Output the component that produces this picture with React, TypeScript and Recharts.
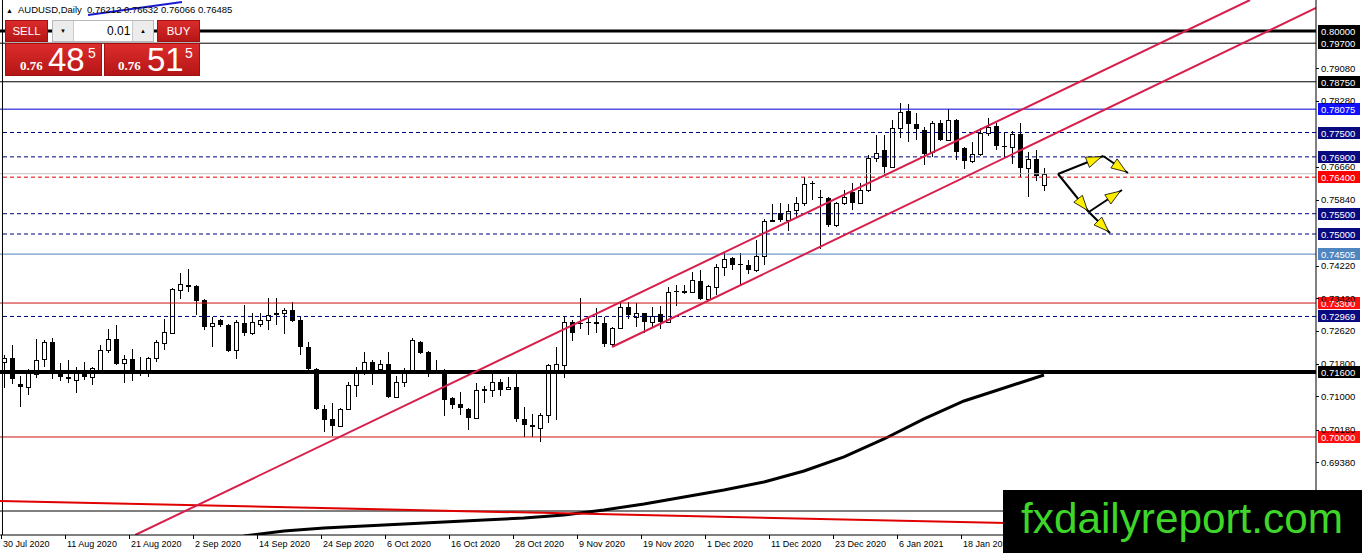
import React from "react";
import { Bar, ComposedChart, Line, ReferenceLine, XAxis, YAxis } from "recharts";

const header = "AUDUSD,Daily  0.76212 0.76632 0.76066 0.76485";
const lotSize = "0.01";
const sellQuote = ["0.76", "48", "5"];
const buyQuote = ["0.76", "51", "5"];
const watermark = "fxdailyreport.com";

// one label every 8 bars
const dateTickIndex = [0, 8, 16, 24, 32, 40, 48, 56, 64, 72, 80, 88, 96, 104, 112, 120];
const dateTickLabels = [
  "30 Jul 2020", "11 Aug 2020", "21 Aug 2020", "2 Sep 2020", "14 Sep 2020", "24 Sep 2020",
  "6 Oct 2020", "16 Oct 2020", "28 Oct 2020", "9 Nov 2020", "19 Nov 2020", "1 Dec 2020",
  "11 Dec 2020", "23 Dec 2020", "6 Jan 2021", "18 Jan 2021",
];

const priceTicks = [0.6938, 0.7018, 0.71, 0.718, 0.7262, 0.7342, 0.7422, 0.7584, 0.7666, 0.7828, 0.7908];

// daily bars, 30 Jul 2020 .. 1 Feb 2021 : open, high, low, close
const ohlc: [number, number, number, number][] = [
  [0.7185, 0.7202, 0.7121, 0.7195], [0.7195, 0.7227, 0.7131, 0.7143], [0.7131, 0.715, 0.7074, 0.7123],
  [0.7123, 0.7168, 0.7104, 0.7158], [0.7155, 0.7241, 0.7145, 0.719], [0.7192, 0.7239, 0.7173, 0.7234],
  [0.7234, 0.7244, 0.7143, 0.7165], [0.7158, 0.7182, 0.7138, 0.7148], [0.7148, 0.719, 0.7133, 0.7143],
  [0.7141, 0.7173, 0.7108, 0.7158], [0.7158, 0.7185, 0.7141, 0.7148], [0.7148, 0.7173, 0.7128, 0.717],
  [0.7165, 0.7227, 0.716, 0.7214], [0.7214, 0.7266, 0.7207, 0.7241], [0.7241, 0.7276, 0.7177, 0.718],
  [0.7182, 0.7202, 0.7133, 0.7192], [0.7192, 0.7217, 0.7138, 0.7163], [0.716, 0.7197, 0.715, 0.7158],
  [0.7165, 0.7197, 0.7148, 0.7195], [0.7195, 0.7239, 0.7185, 0.7234], [0.7232, 0.7291, 0.7214, 0.7259],
  [0.7256, 0.7367, 0.7256, 0.7365], [0.7362, 0.7404, 0.734, 0.7377], [0.7374, 0.7414, 0.7357, 0.737],
  [0.7372, 0.7374, 0.7301, 0.7335], [0.7338, 0.734, 0.7264, 0.7271], [0.7273, 0.7296, 0.7222, 0.7281],
  [0.7288, 0.7291, 0.7271, 0.7276], [0.7276, 0.7278, 0.7209, 0.7212], [0.7214, 0.7288, 0.7192, 0.7283],
  [0.7281, 0.7325, 0.7249, 0.7256], [0.7256, 0.7305, 0.7251, 0.7283], [0.7278, 0.7305, 0.7271, 0.7288],
  [0.7288, 0.7342, 0.7264, 0.7301], [0.7305, 0.7342, 0.7276, 0.7301], [0.7305, 0.7318, 0.7254, 0.7313],
  [0.7313, 0.7333, 0.7283, 0.7286], [0.7288, 0.7296, 0.7202, 0.7222], [0.7222, 0.7234, 0.7158, 0.7168],
  [0.7168, 0.717, 0.7067, 0.7069], [0.7069, 0.7079, 0.7012, 0.7042], [0.7044, 0.7084, 0.7003, 0.7027],
  [0.7027, 0.7071, 0.7025, 0.7069], [0.7069, 0.7136, 0.7067, 0.7128], [0.7128, 0.7173, 0.7099, 0.7158],
  [0.7165, 0.7209, 0.7153, 0.7185], [0.7185, 0.719, 0.7128, 0.7165], [0.7168, 0.719, 0.7165, 0.718],
  [0.718, 0.7209, 0.7096, 0.7099], [0.7099, 0.715, 0.7096, 0.7136], [0.7136, 0.717, 0.7123, 0.716],
  [0.7165, 0.7244, 0.7165, 0.7239], [0.7234, 0.7237, 0.7205, 0.7207], [0.7209, 0.7212, 0.7148, 0.7165],
  [0.7165, 0.719, 0.7158, 0.7163], [0.716, 0.7168, 0.7052, 0.7091], [0.7096, 0.7099, 0.7069, 0.7079],
  [0.7081, 0.7111, 0.7054, 0.7071], [0.7069, 0.7071, 0.7017, 0.7047], [0.7047, 0.7133, 0.7044, 0.7116],
  [0.7116, 0.7126, 0.7084, 0.7117], [0.7116, 0.7158, 0.7099, 0.7136], [0.7136, 0.7143, 0.7101, 0.7116],
  [0.7118, 0.7148, 0.7116, 0.7123], [0.7123, 0.7155, 0.7037, 0.7044], [0.7044, 0.7074, 0.7, 0.703],
  [0.703, 0.7057, 0.7, 0.7025], [0.7022, 0.7059, 0.6988, 0.7054], [0.7054, 0.718, 0.7035, 0.7177],
  [0.716, 0.7222, 0.7042, 0.718], [0.7177, 0.7296, 0.7145, 0.7283], [0.7283, 0.7288, 0.7237, 0.7256],
  [0.7281, 0.7342, 0.7266, 0.728], [0.7283, 0.7296, 0.7251, 0.7281], [0.7281, 0.7318, 0.7256, 0.7283],
  [0.7281, 0.7296, 0.7222, 0.7229], [0.7229, 0.7271, 0.7222, 0.7268], [0.7268, 0.733, 0.7266, 0.732],
  [0.732, 0.7333, 0.7291, 0.7301], [0.7296, 0.733, 0.7271, 0.7305], [0.7305, 0.7306, 0.7256, 0.7283],
  [0.7283, 0.732, 0.7271, 0.7298], [0.7303, 0.7323, 0.7266, 0.7283], [0.7283, 0.737, 0.7281, 0.7357],
  [0.736, 0.7374, 0.7323, 0.7359], [0.7357, 0.7374, 0.7352, 0.736], [0.7357, 0.7406, 0.7355, 0.7387],
  [0.7384, 0.7411, 0.7338, 0.734], [0.734, 0.7374, 0.7338, 0.7372], [0.737, 0.7426, 0.735, 0.7419],
  [0.7419, 0.7453, 0.7397, 0.7438], [0.7441, 0.7443, 0.7411, 0.7423], [0.7426, 0.7453, 0.7374, 0.7425],
  [0.7423, 0.7436, 0.7401, 0.7411], [0.7411, 0.7485, 0.7406, 0.7446], [0.7446, 0.7537, 0.7423, 0.7532],
  [0.7532, 0.7574, 0.7532, 0.7535], [0.7552, 0.7576, 0.753, 0.7535], [0.7535, 0.7574, 0.7507, 0.7557],
  [0.7559, 0.7591, 0.7542, 0.7576], [0.7576, 0.764, 0.7569, 0.7623], [0.7626, 0.7631, 0.7584, 0.7625],
  [0.7591, 0.7608, 0.7463, 0.7589], [0.7589, 0.7591, 0.7517, 0.7522], [0.7522, 0.7579, 0.7517, 0.7576],
  [0.7576, 0.7608, 0.7571, 0.7591], [0.7604, 0.7626, 0.7559, 0.7576], [0.7576, 0.7626, 0.7574, 0.7608],
  [0.7608, 0.7695, 0.7604, 0.7687], [0.7687, 0.7744, 0.7677, 0.77], [0.7707, 0.7744, 0.7645, 0.7665],
  [0.7665, 0.7781, 0.7663, 0.7761], [0.7761, 0.7823, 0.7736, 0.7801], [0.7803, 0.782, 0.7727, 0.7771],
  [0.7771, 0.7798, 0.7732, 0.7759], [0.7756, 0.7764, 0.767, 0.7697], [0.7702, 0.7778, 0.769, 0.7773],
  [0.7773, 0.7781, 0.7729, 0.7732], [0.7732, 0.7808, 0.7729, 0.7781], [0.7781, 0.7783, 0.7682, 0.7702],
  [0.7712, 0.7714, 0.766, 0.768], [0.768, 0.7727, 0.7675, 0.7697], [0.7697, 0.7761, 0.7692, 0.7749],
  [0.7749, 0.7786, 0.7741, 0.7764], [0.7766, 0.7773, 0.7707, 0.7717], [0.7717, 0.7749, 0.7687, 0.7714],
  [0.7714, 0.7754, 0.7672, 0.7746], [0.7746, 0.7773, 0.764, 0.7663], [0.7663, 0.7702, 0.7591, 0.7685],
  [0.7685, 0.7707, 0.7631, 0.7643], [0.76212, 0.76632, 0.76066, 0.76485],
];

// 200 day moving average, read every 5 bars: [bar, value]
const ma200: [number, number][] = [
  [30, 0.67562], [35, 0.67685], [40, 0.67759], [45, 0.67808], [50, 0.67858], [55, 0.67907],
  [60, 0.67956], [65, 0.68006], [70, 0.6808], [75, 0.68203], [80, 0.68351], [85, 0.68523],
  [90, 0.68696], [95, 0.68893], [100, 0.69163], [105, 0.69508], [110, 0.69951], [115, 0.70444],
  [120, 0.70887], [125, 0.71207], [130, 0.71527],
];

// horizontal levels: price, kind
const levels: [number, string][] = [
  [0.8, "heavy"], [0.797, "black"], [0.7875, "black"], [0.78075, "blue"], [0.775, "navyDash"],
  [0.769, "navyDash"], [0.76485, "bid"], [0.764, "redDash"], [0.755, "navyDash"], [0.75, "navyDash"],
  [0.74505, "steel"], [0.733, "red"], [0.72969, "navyDash"], [0.716, "heavier"], [0.7, "red"],
  [0.68177, "plain"],
];

// trend objects as [bar, price] end points
const channelUpper: [number, number][] = [[16.4, 0.67586], [155.75, 0.80764]];
const channelLower: [number, number][] = [[76, 0.72217], [164, 0.80567]];
const redTrend: [number, number][] = [[-0.5, 0.68424], [164, 0.67714]];
const blueTrend: [number, number][] = [[10.5, 0.80394], [22.25, 0.80714]];
const chartEdge = -0.19;
const scenarioArrows: [number, number][][] = [
  [[131.75, 0.76478], [137.4, 0.76921]],
  [[137.4, 0.76921], [140.5, 0.76502]],
  [[131.75, 0.76478], [135.6, 0.75542]],
  [[135.6, 0.75542], [139.75, 0.76084]],
  [[135.6, 0.75542], [138.25, 0.75025]],
];

const levelStyle: Record<string, { stroke: string; width: number; dash?: string; tag?: string }> = {
  heavy: { stroke: "#000", width: 3, tag: "#000" },
  heavier: { stroke: "#000", width: 4, tag: "#000" },
  black: { stroke: "#000", width: 1, tag: "#000" },
  plain: { stroke: "#000", width: 1 },
  blue: { stroke: "#0000d0", width: 1, tag: "#1010ff" },
  navyDash: { stroke: "#000080", width: 1, dash: "4 3", tag: "#0a0a80" },
  bid: { stroke: "#c0c0c0", width: 1 },
  redDash: { stroke: "#e00000", width: 1, dash: "4 3", tag: "#ff0000" },
  steel: { stroke: "#4a82bc", width: 1, tag: "#4f86c0" },
  red: { stroke: "#cc1010", width: 1, tag: "#ff1010" },
};

const maMap = new Map(ma200);
const rows = ohlc.map(([open, high, low, close], i) => ({
  i, open, high, low, close, ma: maMap.has(i) ? maMap.get(i) : null,
}));

const FONT = "'Liberation Sans', Arial, sans-serif";

function Candle(props: any) {
  const { x, y, width, height, payload } = props;
  if (!payload) return null;
  const { open, high, low, close } = payload;
  const top = Math.min(y, y + height);
  const span = Math.abs(height);
  const k = span / (high - low || 1);
  const py = (v: number) => top + (high - v) * k;
  const cx = Math.round(x + width / 2);
  const bt = Math.round(py(Math.max(open, close)));
  const bb = Math.round(py(Math.min(open, close)));
  const wt = Math.round(top);
  const wb = Math.round(top + span);
  return (
    <g>
      <rect x={cx} y={wt} width={1} height={Math.max(1, wb - wt)} fill="#000" />
      {close > open ? (
        <rect x={cx - 1.5} y={bt + 0.5} width={4} height={Math.max(1, bb - bt)} fill="#fff" stroke="#000" strokeWidth={1} />
      ) : (
        <rect x={cx - 2} y={bt} width={5} height={Math.max(1, bb - bt)} fill="#000" />
      )}
    </g>
  );
}

function DateTick(props: any) {
  const { x, y, payload } = props;
  const k = dateTickIndex.indexOf(payload.value);
  if (k < 0) return null;
  return (
    <g>
      <line x1={x - 2.5} x2={x - 2.5} y1={y} y2={y + 4} stroke="#000" />
      <text x={x - 1} y={y + 12} fontSize={9} fontFamily={FONT} fill="#000">
        {dateTickLabels[k]}
      </text>
    </g>
  );
}

function PriceTick(props: any) {
  const { x, y, payload } = props;
  return (
    <g>
      <line x1={x} x2={x + 3} y1={Math.round(y) + 0.5} y2={Math.round(y) + 0.5} stroke="#000" />
      <text x={x + 5} y={y + 3.5} fontSize={9.5} fontFamily={FONT} fill="#000">
        {payload.value.toFixed(5)}
      </text>
    </g>
  );
}

const tag = (text: string, fill: string) => (p: any) => {
  const vb = p.viewBox || {};
  const x = (vb.x ?? 0) + (vb.width ?? 0) + 2;
  const y = Math.round(vb.y ?? 0);
  return (
    <g>
      <rect x={x} y={y - 6} width={42} height={12} fill={fill} />
      <text x={x + 3} y={y + 4} fontSize={9.5} fontFamily={FONT} fill="#fff">
        {text}
      </text>
    </g>
  );
};

function ArrowShape(props: any) {
  const { x1, y1, x2, y2 } = props;
  const dx = x2 - x1;
  const dy = y2 - y1;
  const len = Math.hypot(dx, dy) || 1;
  const ux = dx / len;
  const uy = dy / len;
  const tx = x2 - ux * 2;
  const ty = y2 - uy * 2;
  const bx = tx - ux * 15;
  const by = ty - uy * 15;
  const nx = -uy * 5.5;
  const ny = ux * 5.5;
  return (
    <g>
      <line x1={x1} y1={y1} x2={x2} y2={y2} stroke="#000" strokeWidth={2} />
      <polygon
        points={`${tx},${ty} ${bx + nx},${by + ny} ${bx - nx},${by - ny}`}
        fill="#ffee00"
        stroke="#000"
        strokeWidth={0.8}
      />
    </g>
  );
}

const seg = (pts: [number, number][]) => pts.map(([x, y]) => ({ x, y }));

const btn: React.CSSProperties = {
  position: "absolute",
  background: "linear-gradient(#dc2c2c, #b51616)",
  color: "#fff",
  fontFamily: FONT,
  display: "flex",
  alignItems: "center",
  justifyContent: "center",
  boxSizing: "border-box",
  border: "1px solid #a01010",
};

function Quote({ left, width, parts, offs }: { left: number; width: number; parts: string[]; offs: number[] }) {
  return (
    <div style={{ ...btn, left, top: 43, width, height: 33, display: "block" }}>
      <span style={{ position: "absolute", left: offs[0], top: 14, fontSize: 13, fontWeight: "bold", fontFamily: "'Liberation Serif', serif" }}>
        {parts[0]}
      </span>
      <span style={{ position: "absolute", left: offs[1], top: -3, fontSize: 33, lineHeight: "38px" }}>{parts[1]}</span>
      <span style={{ position: "absolute", left: offs[2], top: 1, fontSize: 14 }}>{parts[2]}</span>
    </div>
  );
}

export default function App() {
  return (
    <div style={{ position: "absolute", left: 0, top: 0, width: 1362, height: 553, background: "#fff", fontFamily: FONT, overflow: "hidden" }}>
      <ComposedChart width={1362} height={553} data={rows} margin={{ top: 0, right: 0, bottom: 0, left: 0 }} barCategoryGap={0}>
        <XAxis
          type="number"
          dataKey="i"
          domain={[-0.5, 164]}
          ticks={dateTickIndex}
          interval={0}
          height={18}
          tickSize={0}
          tickMargin={0}
          tickLine={false}
          axisLine={{ stroke: "#000" }}
          tick={<DateTick />}
        />
        <YAxis
          orientation="right"
          type="number"
          domain={[0.67586, 0.80764]}
          allowDataOverflow
          ticks={priceTicks}
          interval={0}
          width={46}
          tickSize={0}
          tickMargin={0}
          tickLine={false}
          axisLine={{ stroke: "#000" }}
          tick={<PriceTick />}
        />
        <Line dataKey="ma" stroke="#000" strokeWidth={3} dot={false} connectNulls type="linear" isAnimationActive={false} />
        <Bar dataKey={(d: any) => [d.low, d.high]} barSize={6} shape={<Candle />} isAnimationActive={false} />
        {levels.map(([price, kind]) => {
          const s = levelStyle[kind];
          return (
            <ReferenceLine
              key={price}
              y={price}
              stroke={s.stroke}
              strokeWidth={s.width}
              strokeDasharray={s.dash}
              label={s.tag ? tag(price.toFixed(5), s.tag) : undefined}
            />
          );
        })}
        <ReferenceLine x={chartEdge} stroke="#000" strokeWidth={1} />
        <ReferenceLine segment={seg(redTrend)} stroke="#e00000" strokeWidth={2} ifOverflow="hidden" />
        <ReferenceLine segment={seg(channelUpper)} stroke="#d81e4b" strokeWidth={2} ifOverflow="hidden" />
        <ReferenceLine segment={seg(channelLower)} stroke="#d81e4b" strokeWidth={2} ifOverflow="hidden" />
        <ReferenceLine segment={seg(blueTrend)} stroke="#1a1ad0" strokeWidth={2} ifOverflow="hidden" />
        {scenarioArrows.map((a, k) => (
          <ReferenceLine key={"a" + k} segment={seg(a)} ifOverflow="visible" shape={ArrowShape} />
        ))}
      </ComposedChart>

      <div style={{ position: "absolute", left: 6, top: 4, fontSize: 9.5, color: "#000", whiteSpace: "pre" }}>
        <span style={{ fontSize: 7, marginRight: 5 }}>▲</span>
        {header}
      </div>

      <div style={{ ...btn, left: 5, top: 20, width: 43, height: 22, fontSize: 11.5 }}>SELL</div>
      <div style={{ position: "absolute", left: 52, top: 20, width: 102, height: 22, background: "#fff", border: "1px solid #b8b8b8", boxSizing: "border-box" }}>
        <div style={{ position: "absolute", left: 0, top: 0, width: 20, height: 20, background: "#ececec", borderRight: "1px solid #c8c8c8", fontSize: 6, display: "flex", alignItems: "center", justifyContent: "center" }}>▼</div>
        <div style={{ position: "absolute", left: 54, top: 3, fontSize: 12 }}>{lotSize}</div>
        <div style={{ position: "absolute", right: 0, top: 0, width: 20, height: 20, background: "#ececec", borderLeft: "1px solid #c8c8c8", fontSize: 6, display: "flex", alignItems: "center", justifyContent: "center" }}>▲</div>
      </div>
      <div style={{ ...btn, left: 157, top: 20, width: 43, height: 22, fontSize: 11.5 }}>BUY</div>
      <Quote left={5} width={97} parts={sellQuote} offs={[14, 42, 82]} />
      <Quote left={104} width={96} parts={buyQuote} offs={[13, 42, 80]} />

      <svg style={{ position: "absolute", left: 1003, top: 490 }} width={359} height={63}>
        <rect x={0} y={0} width={359} height={63} fill="#000" />
        <text x={18} y={43} fontSize={43} fill="#3fd62a" fontFamily={FONT} textLength={322} lengthAdjust="spacingAndGlyphs">
          {watermark}
        </text>
      </svg>
    </div>
  );
}
